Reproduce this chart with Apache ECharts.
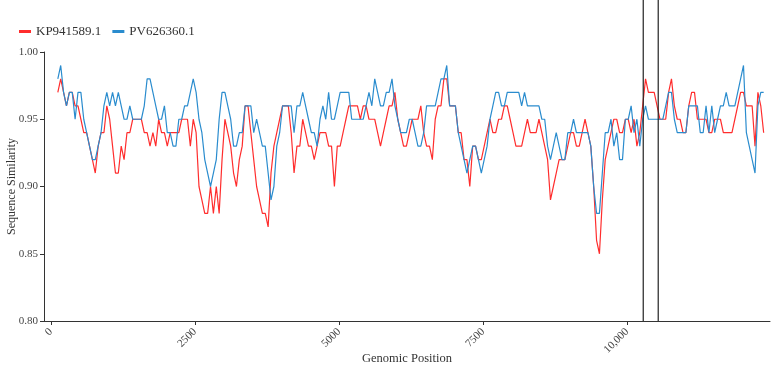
<!DOCTYPE html>
<html>
<head>
<meta charset="utf-8">
<script src="https://cdn.jsdelivr.net/npm/echarts@6/dist/echarts.min.js"></script>
<style>
  html, body { margin: 0; padding: 0; background: #fff; }
  #chart { width: 777px; height: 369px; }
</style>
</head>
<body>
<div id="chart"></div>
<script>
// sliding window centres (bp)
const windowStart = 120;
const windowStep = 50;

const kpName = 'KP941589.1';
const pvName = 'PV626360.1';

const kpValues = [
  .97,.98,.97,.96,.97,.97,.96,.96,.95,.94,
  .94,.93,.92,.91,.93,.94,.94,.96,.95,.93,
  .91,.91,.93,.92,.94,.94,.95,.95,.95,.95,
  .94,.94,.93,.94,.93,.95,.94,.94,.93,.94,
  .94,.94,.94,.95,.95,.95,.93,.95,.94,.90,
  .89,.88,.88,.90,.88,.90,.88,.92,.95,.94,
  .93,.91,.90,.92,.93,.96,.96,.94,.92,.90,
  .89,.88,.88,.87,.91,.93,.94,.95,.96,.96,
  .96,.94,.91,.93,.93,.95,.94,.93,.93,.92,
  .93,.94,.94,.94,.93,.93,.90,.93,.93,.94,
  .95,.96,.96,.96,.96,.95,.96,.96,.95,.95,
  .95,.94,.93,.94,.95,.96,.96,.97,.95,.94,
  .93,.93,.94,.95,.95,.95,.96,.94,.93,.93,
  .92,.95,.96,.96,.98,.98,.96,.96,.96,.94,
  .94,.92,.92,.90,.93,.93,.92,.92,.93,.94,
  .95,.94,.94,.95,.95,.96,.96,.95,.94,.93,
  .93,.93,.94,.95,.94,.94,.94,.95,.94,.93,
  .92,.89,.90,.91,.92,.92,.92,.93,.94,.94,
  .93,.93,.94,.95,.94,.93,.90,.86,.85,.89,
  .92,.93,.94,.95,.95,.94,.94,.95,.95,.94,
  .95,.93,.94,.96,.98,.97,.97,.97,.96,.95,
  .95,.95,.97,.98,.96,.95,.95,.94,.94,.96,
  .97,.97,.95,.95,.95,.95,.94,.94,.95,.95,
  .95,.94,.94,.94,.94,.95,.96,.97,.97,.96,
  .96,.96,.93,.97,.96,.94
];

const pvValues = [
  .98,.99,.97,.96,.97,.97,.95,.97,.97,.95,
  .94,.93,.92,.92,.93,.94,.96,.97,.96,.97,
  .96,.97,.96,.95,.95,.96,.95,.95,.95,.95,
  .96,.98,.98,.97,.96,.95,.95,.96,.94,.94,
  .93,.93,.95,.95,.96,.96,.97,.98,.97,.95,
  .94,.92,.91,.90,.91,.92,.95,.97,.97,.96,
  .95,.93,.93,.94,.94,.96,.96,.96,.94,.95,
  .94,.93,.93,.91,.89,.90,.93,.94,.96,.96,
  .96,.96,.94,.96,.96,.97,.96,.95,.94,.94,
  .93,.95,.96,.95,.97,.95,.95,.96,.97,.97,
  .97,.97,.95,.95,.95,.95,.95,.96,.97,.96,
  .98,.97,.96,.96,.97,.97,.98,.96,.95,.94,
  .94,.94,.95,.95,.94,.93,.93,.94,.96,.96,
  .96,.96,.97,.98,.98,.99,.96,.96,.96,.94,
  .93,.92,.91,.92,.93,.93,.92,.91,.92,.93,
  .95,.96,.97,.97,.96,.96,.97,.97,.97,.97,
  .97,.96,.97,.96,.96,.96,.96,.96,.95,.95,
  .93,.92,.93,.94,.93,.92,.92,.94,.94,.95,
  .94,.94,.94,.94,.94,.93,.90,.88,.88,.91,
  .94,.94,.95,.93,.94,.92,.92,.95,.95,.96,
  .94,.95,.93,.95,.96,.95,.95,.95,.95,.95,
  .95,.96,.97,.97,.95,.94,.94,.94,.94,.96,
  .96,.96,.96,.94,.94,.96,.94,.96,.94,.95,
  .96,.96,.97,.96,.96,.96,.97,.98,.99,.94,
  .93,.92,.91,.96,.97,.97
];

// breakpoint markers
const markerPositions = [10280, 10540];

const xTicks = [0, 2500, 5000, 7500, 10000];

const positions = kpValues.map((_, i) => windowStart + i * windowStep);
const toPairs = (vals) => vals.map((v, i) => [positions[i], v]);

const font = 'Liberation Serif';
const chart = echarts.init(document.getElementById('chart'));

chart.setOption({
  animation: false,
  textStyle: { fontFamily: font },
  legend: {
    data: [kpName, pvName],
    left: 14,
    top: 20,
    icon: 'rect',
    itemWidth: 12,
    itemHeight: 3,
    itemGap: 11,
    textStyle: { fontFamily: font, fontSize: 13, color: '#333' },
  },
  grid: { left: 44, right: 7, top: 52, bottom: 48, outerBoundsMode: 'none', containLabel: false },
  xAxis: {
    type: 'value',
    min: -120,
    max: 12480,
    name: 'Genomic Position',
    nameLocation: 'middle',
    nameGap: 31,
    nameMoveOverlap: false,
    nameTextStyle: { fontFamily: font, fontSize: 12.5, color: '#333' },
    splitLine: { show: false },
    axisLine: { onZero: false, lineStyle: { color: '#333', width: 1 } },
    axisTick: { customValues: xTicks, length: 4, lineStyle: { color: '#333' } },
    axisLabel: {
      customValues: xTicks,
      rotate: 45,
      fontFamily: font,
      fontSize: 11,
      color: '#444',
      margin: 9,
      formatter: (v) => (v >= 10000 ? v.toLocaleString('en-US') : String(v)),
    },
  },
  yAxis: {
    type: 'value',
    min: 0.8,
    max: 1.0,
    interval: 0.05,
    name: 'Sequence Similarity',
    nameLocation: 'middle',
    nameGap: 26,
    nameMoveOverlap: false,
    nameTextStyle: { fontFamily: font, fontSize: 12, color: '#333' },
    splitLine: { show: false },
    axisLine: { show: true, onZero: false, lineStyle: { color: '#333', width: 1 } },
    axisTick: { show: true, length: 4, lineStyle: { color: '#333' } },
    axisLabel: {
      fontFamily: font,
      fontSize: 11,
      color: '#444',
      margin: 6,
      formatter: (v) => v.toFixed(2),
    },
  },
  series: [
    {
      name: kpName,
      type: 'line',
      data: toPairs(kpValues),
      symbol: 'none',
      lineStyle: { color: '#ff2d2d', width: 1.2 },
      itemStyle: { color: '#ff2d2d' },
    },
    {
      name: pvName,
      type: 'line',
      data: toPairs(pvValues),
      symbol: 'none',
      lineStyle: { color: '#2a8cce', width: 1.2 },
      itemStyle: { color: '#2a8cce' },
    },
    {
      type: 'custom',
      silent: true,
      clip: false,
      z: 5,
      data: markerPositions.map((p) => [p, 0.8]),
      encode: { x: 0, y: 1 },
      renderItem: (params, api) => {
        const base = api.coord([api.value(0), api.value(1)]);
        return {
          type: 'line',
          shape: { x1: base[0], y1: 0, x2: base[0], y2: base[1] },
          style: { stroke: '#222', lineWidth: 1.2 },
        };
      },
    },
  ],
});
</script>
</body>
</html>
